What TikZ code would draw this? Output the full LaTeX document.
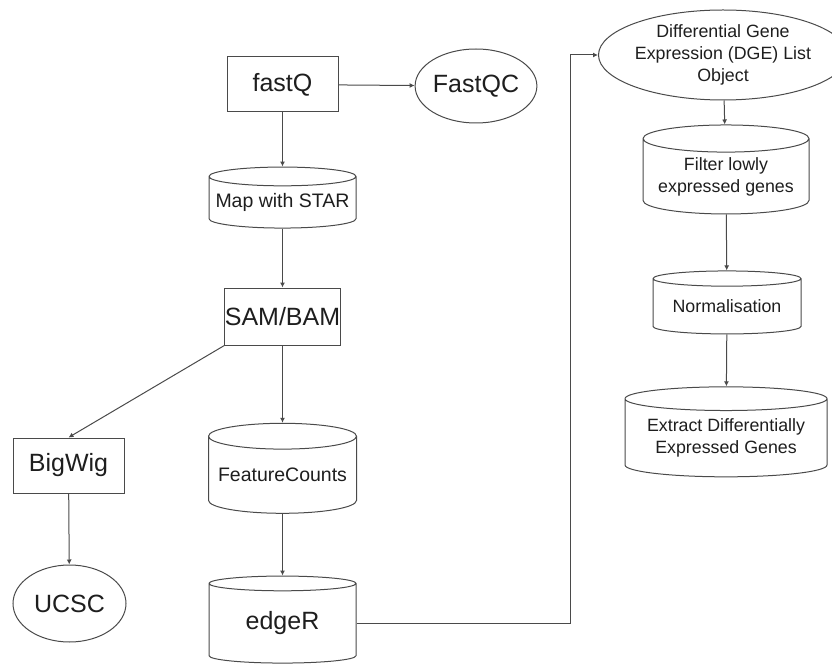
\documentclass[tikz,border=0pt]{standalone}
\usepackage{fontspec}
\setmainfont{Liberation Sans}
\usepackage{tikz}
\usetikzlibrary{arrows.meta,shapes.geometric}
\definecolor{FlowLine}{HTML}{4A4A4A}
\definecolor{FlowText}{HTML}{1E1E1E}
\tikzset{
  procbox/.style={draw=FlowLine,line width=1pt,rectangle,text=FlowText,
    minimum width=111pt,minimum height=55pt,inner sep=0pt},
  outoval/.style={draw=FlowLine,line width=1pt,ellipse,text=FlowText,inner sep=0pt},
  dbcyl/.style={draw=FlowLine,line width=1pt,cylinder,shape border rotate=90,
    text=FlowText,inner sep=0pt,align=center},
  flowarrow/.style={draw=FlowLine,line width=1pt,-{Latex[length=5pt,width=5pt]}},
  bigtext/.style={font=\fontsize{25}{30}\selectfont},
  midtext/.style={font=\fontsize{19.5}{23}\selectfont},
  smalltext/.style={font=\fontsize{17.8}{22}\selectfont},
}

\begin{document}
\begin{tikzpicture}[x=1pt,y=-1pt]
        \useasboundingbox (0,0) rectangle (832,668);

        % left column
        \node[procbox,bigtext] (fastq) at (282.5,84.5) {fastQ};
        \node[outoval,bigtext,minimum width=110pt,minimum height=74pt]
          (fastqc) at (476,86) {FastQC};
        \node[dbcyl,midtext,minimum width=147pt,minimum height=61pt,aspect=0.14]
          (mapstar) at (282.5,202.5) {Map with STAR};
        \node[procbox,bigtext,minimum height=57pt] (sambam) at (282.5,316.5) {SAM/BAM};
        \node[procbox,bigtext] (bigwig) at (68.5,465.5) {BigWig};
        \node[outoval,bigtext,minimum width=113pt,minimum height=77pt]
          (ucsc) at (69.5,603.5) {UCSC};
        \node[dbcyl,midtext,minimum width=148pt,minimum height=90pt,aspect=0.2]
          (fcounts) at (282.5,475) {FeatureCounts};
        \node[dbcyl,bigtext,minimum width=147pt,minimum height=87pt,aspect=0.2]
          (edger) at (282.5,623.5) {edgeR};

        % right column
        \node[outoval,smalltext,align=center,minimum width=214pt,minimum height=90pt]
          (dge) at (723,55) {Differential Gene\\Expression (DGE) List\\Object};
        \node[dbcyl,smalltext,minimum width=166pt,minimum height=89pt,aspect=0.2]
          (filter) at (726,176.5) {Filter lowly\\expressed genes};
        \node[dbcyl,smalltext,minimum width=148pt,minimum height=63pt,aspect=0.14]
          (norm) at (727,306.5) {Normalisation};
        \node[dbcyl,smalltext,minimum width=202pt,minimum height=90pt,aspect=0.15]
          (extract) at (726,438) {Extract Differentially\\Expressed Genes};

        \draw[flowarrow] (fastq) -- (fastqc);
        \draw[flowarrow] (fastq) -- (mapstar);
        \draw[flowarrow] (mapstar) -- (sambam);
        \draw[flowarrow] (sambam) -- (fcounts);
        \draw[flowarrow] (sambam.south west) -- (bigwig.north);
        \draw[flowarrow] (bigwig) -- (ucsc);
        \draw[flowarrow] (fcounts) -- (edger);
        \draw[flowarrow] (edger.east) -- ++(214,0) |- (dge.west);
        \draw[flowarrow] (dge) -- (filter);
        \draw[flowarrow] (filter) -- (norm);
        \draw[flowarrow] (norm) -- (extract);
      \end{tikzpicture}
\end{document}
